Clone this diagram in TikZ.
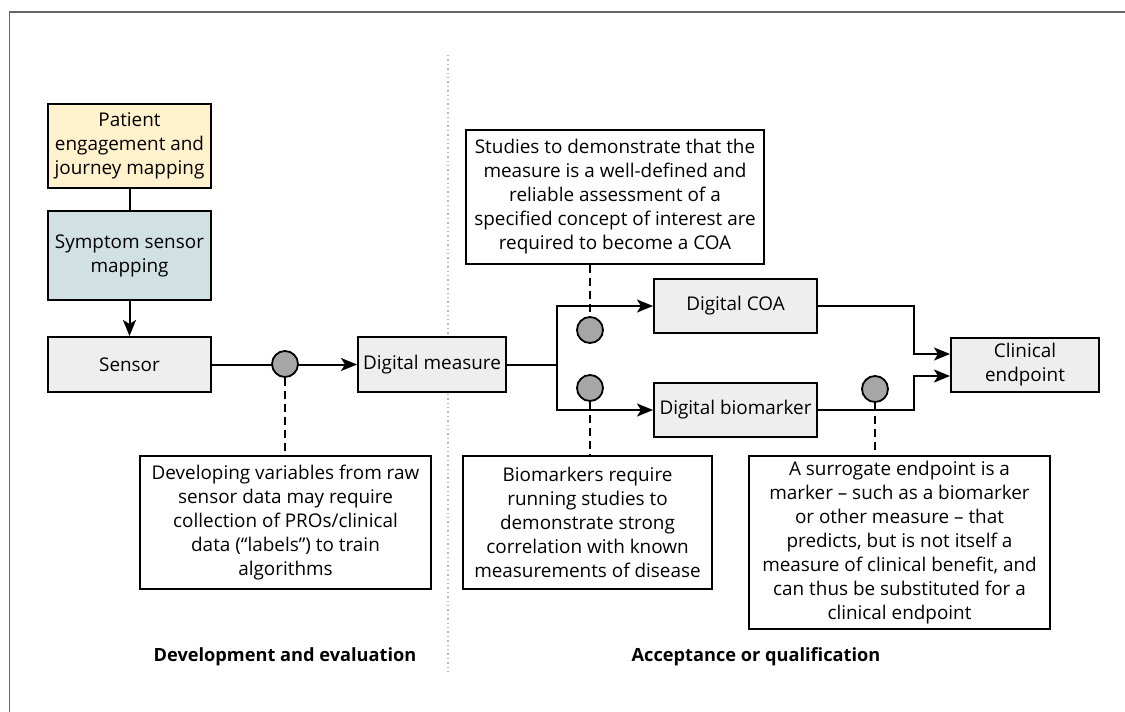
\documentclass[tikz,border=0pt]{standalone}
\usepackage{fontspec}
\setmainfont{Open Sans}
\usetikzlibrary{arrows.meta}
\definecolor{pat}{HTML}{FFF2CC}
\definecolor{sym}{HTML}{D0E0E3}
\definecolor{gbox}{HTML}{EEEEEE}
\definecolor{dotc}{HTML}{BBBBBB}
\definecolor{framec}{HTML}{666666}
\definecolor{circc}{HTML}{A6A6A6}
\tikzset{
  basebox/.style={draw=black, line width=2pt, inner sep=0pt, align=center,
    font=\fontsize{18.9}{24}\selectfont},
  gbx/.style={basebox, fill=gbox},
  notebox/.style={basebox, fill=white},
  conn/.style={line width=2pt},
  arr/.style={conn, -{Stealth[length=16pt,width=13pt,inset=4pt]}},
  dashline/.style={line width=2pt, dash pattern=on 8pt off 5pt},
  dot/.style={circle, draw=black, line width=1.8pt, fill=circc, minimum size=26pt, inner sep=0pt},
  sectlabel/.style={font=\fontsize{18.2}{22}\selectfont\bfseries}
}
\begin{document}
\begin{tikzpicture}[x=1pt,y=-1pt]
\useasboundingbox (0,0) rectangle (1125,712);
\fill[white] (0,0) rectangle (1125,712);
% frame
\draw[framec, line width=1.6pt] (9.5,712) -- (9.5,12) -- (1125,12);
% divider
\draw[dotc, line width=1.4pt, dash pattern=on 1.4pt off 3pt] (448,55) -- (448,675);

% boxes
\node[basebox, fill=pat, minimum width=163pt, minimum height=84pt] (pat) at (129.5,146) {Patient\\engagement and\\journey mapping};
\node[basebox, fill=sym, minimum width=163pt, minimum height=89pt] (sym) at (129.5,255.5) {Symptom sensor\\mapping};
\node[gbx, minimum width=163pt, minimum height=55pt] (sen) at (129.5,364.5) {Sensor};
\node[gbx, minimum width=148pt, minimum height=55pt] (dm) at (432,364.5) {Digital measure};
\node[gbx, minimum width=163pt, minimum height=54pt] (coa) at (735.5,306) {Digital COA};
\node[gbx, minimum width=163pt, minimum height=54pt] (bio) at (735.5,410) {Digital biomarker};
\node[gbx, minimum width=148pt, minimum height=54pt] (clin) at (1025,365) {Clinical\\endpoint};

% notes
\node[notebox, minimum width=298pt, minimum height=134pt] (top) at (615,197) {Studies to demonstrate that the\\measure is a well-defined and\\reliable assessment of a\\specified concept of interest are\\required to become a COA};
\node[notebox, minimum width=291pt, minimum height=133pt] (dev) at (285.5,522.5) {Developing variables from raw\\sensor data may require\\collection of PROs/clinical\\data (“labels”) to train\\algorithms};
\node[notebox, minimum width=249pt, minimum height=133pt] (biom) at (587.5,522.5) {Biomarkers require\\running studies to\\demonstrate strong\\correlation with known\\measurements of disease};
\node[notebox, minimum width=301pt, minimum height=173pt] (sur) at (899.5,542.5) {A surrogate endpoint is a\\marker – such as a biomarker\\or other measure – that\\predicts, but is not itself a\\measure of clinical benefit, and\\can thus be substituted for a\\clinical endpoint};

% section labels
\node[sectlabel] (lab1) at (285,657) {Development and evaluation};
\node[sectlabel] (lab2) at (756,657) {Acceptance or qualification};

% connectors
\draw[conn] (pat.south) -- (sym.north);
\draw[arr] (sym.south) -- (sen.north);
\draw[arr] (sen.east) -- (dm.west);
\coordinate (br) at (557,364.5);
\draw[conn] (dm.east) -- (br);
\draw[arr] (br) |- (coa.west);
\draw[arr] (br) |- (bio.west);
\draw[arr] (coa.east) -- ++(96,0) |- ([yshift=11pt]clin.west);
\draw[arr] (bio.east) -- ++(96,0) |- ([yshift=-11pt]clin.west);

% circles
\node[dot] (c1) at (285,364) {};
\node[dot] (c2) at (590,330) {};
\node[dot] (c3) at (590,388) {};
\node[dot] (c4) at (875,389) {};

% dashed leaders
\draw[dashline] (c1.south) -- (c1 |- dev.north);
\draw[dashline] (top.south -| c2) -- (c2.north);
\draw[dashline] (c3.south) -- (c3 |- biom.north);
\draw[dashline] (c4.south) -- (c4 |- sur.north);
\end{tikzpicture}
\end{document}
